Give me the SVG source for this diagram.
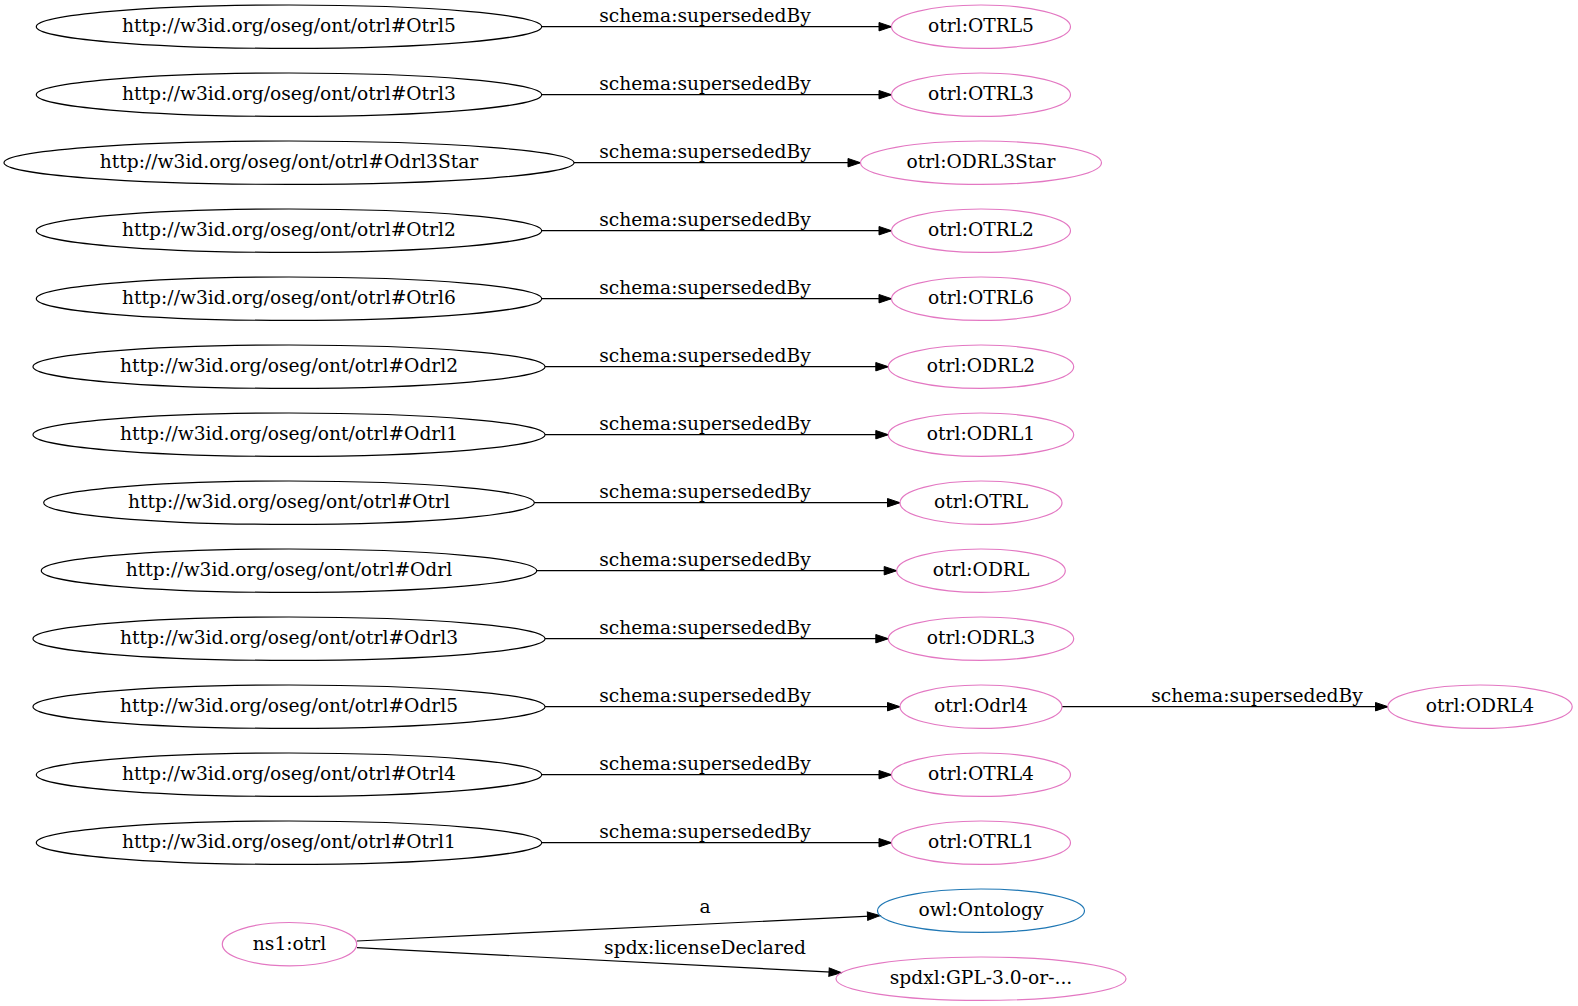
<svg xmlns="http://www.w3.org/2000/svg" width="1578" height="1006" viewBox="0 0 1578 1006">
<style>
text{font-family:"DejaVu Serif","Liberation Serif",serif;font-size:18.67px;fill:#000;text-anchor:middle}
ellipse{fill:none;stroke-width:1.2}
.k{stroke:#000}
.p{stroke:#e377c2}
.b{stroke:#1f77b4}
.e line{stroke:#000;stroke-width:1.2;marker-end:url(#ah)}
</style>
<defs>
<marker id="ah" markerUnits="userSpaceOnUse" markerWidth="13" markerHeight="10" refX="12.5" refY="4.2" orient="auto" viewBox="0 0 13 8.4" overflow="visible">
<path d="M0,0 L12.5,4.2 L0,8.4 z" fill="#000" stroke="#000" stroke-width="1"/>
</marker>
</defs>
<rect width="1578" height="1006" fill="#fff"/>
<g class="e" id="edges">
<line x1="541.7" y1="26.7" x2="891.5" y2="26.7"/>
<line x1="541.7" y1="94.7" x2="891.5" y2="94.7"/>
<line x1="574" y1="162.7" x2="860.5" y2="162.7"/>
<line x1="541.7" y1="230.7" x2="891.5" y2="230.7"/>
<line x1="541.7" y1="298.7" x2="891.5" y2="298.7"/>
<line x1="545" y1="366.7" x2="888.3" y2="366.7"/>
<line x1="545" y1="434.7" x2="888.3" y2="434.7"/>
<line x1="534.3" y1="502.7" x2="900" y2="502.7"/>
<line x1="536.7" y1="570.7" x2="896.7" y2="570.7"/>
<line x1="545" y1="638.7" x2="888.3" y2="638.7"/>
<line x1="545" y1="706.7" x2="900" y2="706.7"/>
<line x1="1062" y1="706.7" x2="1388" y2="706.7"/>
<line x1="541.7" y1="774.7" x2="891.5" y2="774.7"/>
<line x1="541.7" y1="842.7" x2="891.5" y2="842.7"/>
<line x1="357" y1="941" x2="880" y2="915.6"/>
<line x1="357" y1="947.7" x2="841.5" y2="972.7"/>
<text x="705" y="22.4">schema:supersededBy</text>
<text x="705" y="90.4">schema:supersededBy</text>
<text x="705" y="158.4">schema:supersededBy</text>
<text x="705" y="226.4">schema:supersededBy</text>
<text x="705" y="294.4">schema:supersededBy</text>
<text x="705" y="362.4">schema:supersededBy</text>
<text x="705" y="430.4">schema:supersededBy</text>
<text x="705" y="498.4">schema:supersededBy</text>
<text x="705" y="566.4">schema:supersededBy</text>
<text x="705" y="634.4">schema:supersededBy</text>
<text x="705" y="702.4">schema:supersededBy</text>
<text x="1257" y="702.4">schema:supersededBy</text>
<text x="705" y="770.4">schema:supersededBy</text>
<text x="705" y="838.4">schema:supersededBy</text>
<text x="705" y="913.3">a</text>
<text x="705" y="954.3">spdx:licenseDeclared</text>
</g>
<g id="n_Otrl5"><ellipse class="k" cx="289" cy="26.7" rx="252.7" ry="21.7"/><text x="289" y="32.3">http://w3id.org/oseg/ont/otrl#Otrl5</text></g>
<g id="n_Otrl3"><ellipse class="k" cx="289" cy="94.7" rx="252.7" ry="21.7"/><text x="289" y="100.3">http://w3id.org/oseg/ont/otrl#Otrl3</text></g>
<g id="n_Odrl3Star"><ellipse class="k" cx="289" cy="162.7" rx="285" ry="21.7"/><text x="289" y="168.3">http://w3id.org/oseg/ont/otrl#Odrl3Star</text></g>
<g id="n_Otrl2"><ellipse class="k" cx="289" cy="230.7" rx="252.7" ry="21.7"/><text x="289" y="236.3">http://w3id.org/oseg/ont/otrl#Otrl2</text></g>
<g id="n_Otrl6"><ellipse class="k" cx="289" cy="298.7" rx="252.7" ry="21.7"/><text x="289" y="304.3">http://w3id.org/oseg/ont/otrl#Otrl6</text></g>
<g id="n_Odrl2"><ellipse class="k" cx="289" cy="366.7" rx="256" ry="21.7"/><text x="289" y="372.3">http://w3id.org/oseg/ont/otrl#Odrl2</text></g>
<g id="n_Odrl1"><ellipse class="k" cx="289" cy="434.7" rx="256" ry="21.7"/><text x="289" y="440.3">http://w3id.org/oseg/ont/otrl#Odrl1</text></g>
<g id="n_Otrl"><ellipse class="k" cx="289" cy="502.7" rx="245.3" ry="21.7"/><text x="289" y="508.3">http://w3id.org/oseg/ont/otrl#Otrl</text></g>
<g id="n_Odrl"><ellipse class="k" cx="289" cy="570.7" rx="247.7" ry="21.7"/><text x="289" y="576.3">http://w3id.org/oseg/ont/otrl#Odrl</text></g>
<g id="n_Odrl3"><ellipse class="k" cx="289" cy="638.7" rx="256" ry="21.7"/><text x="289" y="644.3">http://w3id.org/oseg/ont/otrl#Odrl3</text></g>
<g id="n_Odrl5"><ellipse class="k" cx="289" cy="706.7" rx="256" ry="21.7"/><text x="289" y="712.3">http://w3id.org/oseg/ont/otrl#Odrl5</text></g>
<g id="n_Otrl4"><ellipse class="k" cx="289" cy="774.7" rx="252.7" ry="21.7"/><text x="289" y="780.3">http://w3id.org/oseg/ont/otrl#Otrl4</text></g>
<g id="n_Otrl1"><ellipse class="k" cx="289" cy="842.7" rx="252.7" ry="21.7"/><text x="289" y="848.3">http://w3id.org/oseg/ont/otrl#Otrl1</text></g>
<g id="n_ns1otrl"><ellipse class="p" cx="289.5" cy="944.2" rx="67.2" ry="21.7"/><text x="289.5" y="949.8">ns1:otrl</text></g>
<g id="n_OTRL5"><ellipse class="p" cx="981" cy="26.7" rx="89.5" ry="21.7"/><text x="981" y="32.3">otrl:OTRL5</text></g>
<g id="n_OTRL3"><ellipse class="p" cx="981" cy="94.7" rx="89.5" ry="21.7"/><text x="981" y="100.3">otrl:OTRL3</text></g>
<g id="n_ODRL3Star"><ellipse class="p" cx="981" cy="162.7" rx="120.5" ry="21.7"/><text x="981" y="168.3">otrl:ODRL3Star</text></g>
<g id="n_OTRL2"><ellipse class="p" cx="981" cy="230.7" rx="89.5" ry="21.7"/><text x="981" y="236.3">otrl:OTRL2</text></g>
<g id="n_OTRL6"><ellipse class="p" cx="981" cy="298.7" rx="89.5" ry="21.7"/><text x="981" y="304.3">otrl:OTRL6</text></g>
<g id="n_ODRL2"><ellipse class="p" cx="981" cy="366.7" rx="92.7" ry="21.7"/><text x="981" y="372.3">otrl:ODRL2</text></g>
<g id="n_ODRL1"><ellipse class="p" cx="981" cy="434.7" rx="92.7" ry="21.7"/><text x="981" y="440.3">otrl:ODRL1</text></g>
<g id="n_OTRL"><ellipse class="p" cx="981" cy="502.7" rx="81" ry="21.7"/><text x="981" y="508.3">otrl:OTRL</text></g>
<g id="n_ODRL"><ellipse class="p" cx="981" cy="570.7" rx="84.3" ry="21.7"/><text x="981" y="576.3">otrl:ODRL</text></g>
<g id="n_ODRL3"><ellipse class="p" cx="981" cy="638.7" rx="92.7" ry="21.7"/><text x="981" y="644.3">otrl:ODRL3</text></g>
<g id="n_Odrl4"><ellipse class="p" cx="981" cy="706.7" rx="81" ry="21.7"/><text x="981" y="712.3">otrl:Odrl4</text></g>
<g id="n_ODRL4"><ellipse class="p" cx="1480" cy="706.7" rx="92.2" ry="21.7"/><text x="1480" y="712.3">otrl:ODRL4</text></g>
<g id="n_OTRL4"><ellipse class="p" cx="981" cy="774.7" rx="89.5" ry="21.7"/><text x="981" y="780.3">otrl:OTRL4</text></g>
<g id="n_OTRL1"><ellipse class="p" cx="981" cy="842.7" rx="89.5" ry="21.7"/><text x="981" y="848.3">otrl:OTRL1</text></g>
<g id="n_owlOntology"><ellipse class="b" cx="981" cy="910.7" rx="103.5" ry="21.7"/><text x="981" y="916.3">owl:Ontology</text></g>
<g id="n_spdxl"><ellipse class="p" cx="981" cy="978.7" rx="145" ry="21.7"/><text x="981" y="984.3">spdxl:GPL-3.0-or-...</text></g>
</svg>
